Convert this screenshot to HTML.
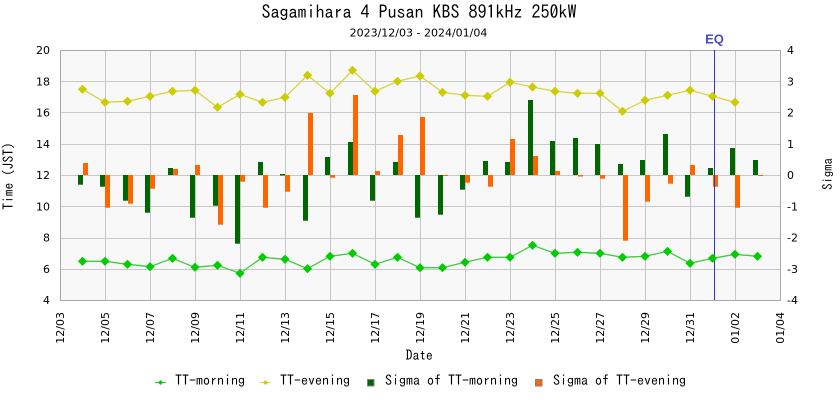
<!DOCTYPE html>
<html>
<head>
<meta charset="utf-8">
<style>
html,body{margin:0;padding:0;background:#fff;}
svg{display:block;}
.mono{font-family:"IPAGothic","Liberation Mono",monospace;}
.sans{font-family:"DejaVu Sans","Liberation Sans",sans-serif;}
</style>
</head>
<body>
<svg width="840" height="400" viewBox="0 0 840 400" xmlns="http://www.w3.org/2000/svg">
<defs>
<marker id="dy" viewBox="0 0 10 10" refX="5" refY="5" markerWidth="10" markerHeight="10" markerUnits="userSpaceOnUse">
<path d="M5,0.4 L9.6,5 L5,9.6 L0.4,5 Z" fill="#cccc00"/>
</marker>
<marker id="dg" viewBox="0 0 10 10" refX="5" refY="5" markerWidth="10" markerHeight="10" markerUnits="userSpaceOnUse">
<path d="M5,0.4 L9.6,5 L5,9.6 L0.4,5 Z" fill="#00cc00"/>
</marker>
</defs>
<rect x="0" y="0" width="840" height="400" fill="#fff"/>
<!-- title -->
<text class="mono" x="419" y="18.5" font-size="18" text-anchor="middle" fill="#000">Sagamihara 4 Pusan KBS 891kHz 250kW</text>
<text class="sans" x="418.5" y="36.5" font-size="11" text-anchor="middle" fill="#000">2023/12/03 - 2024/01/04</text>

<!-- plot background -->
<rect x="60" y="50" width="720" height="250" fill="#f8f8f8"/>
<!-- grid -->
<g stroke="#c8c8c8" stroke-width="1">
<line x1="105.5" y1="50" x2="105.5" y2="300"/>
<line x1="150.5" y1="50" x2="150.5" y2="300"/>
<line x1="195.5" y1="50" x2="195.5" y2="300"/>
<line x1="240.5" y1="50" x2="240.5" y2="300"/>
<line x1="285.5" y1="50" x2="285.5" y2="300"/>
<line x1="330.5" y1="50" x2="330.5" y2="300"/>
<line x1="375.5" y1="50" x2="375.5" y2="300"/>
<line x1="420.5" y1="50" x2="420.5" y2="300"/>
<line x1="465.5" y1="50" x2="465.5" y2="300"/>
<line x1="510.5" y1="50" x2="510.5" y2="300"/>
<line x1="555.5" y1="50" x2="555.5" y2="300"/>
<line x1="600.5" y1="50" x2="600.5" y2="300"/>
<line x1="645.5" y1="50" x2="645.5" y2="300"/>
<line x1="690.5" y1="50" x2="690.5" y2="300"/>
<line x1="735.5" y1="50" x2="735.5" y2="300"/>
<line x1="60" y1="81.5" x2="780" y2="81.5"/>
<line x1="60" y1="112.5" x2="780" y2="112.5"/>
<line x1="60" y1="144.5" x2="780" y2="144.5"/>
<line x1="60" y1="175.5" x2="780" y2="175.5"/>
<line x1="60" y1="206.5" x2="780" y2="206.5"/>
<line x1="60" y1="238.5" x2="780" y2="238.5"/>
<line x1="60" y1="269.5" x2="780" y2="269.5"/>
</g>
<rect x="60.5" y="50.5" width="720" height="250" fill="none" stroke="#a8a8a8" stroke-width="1"/>

<!-- bars: sigma morning (dark green) -->
<g fill="#006600">
<rect x="78" y="175" width="5" height="9.7"/>
<rect x="100" y="175" width="5" height="11.7"/>
<rect x="123" y="175" width="5" height="25.7"/>
<rect x="145" y="175" width="5" height="37.7"/>
<rect x="168" y="168" width="5" height="7"/>
<rect x="190" y="175" width="5" height="42.7"/>
<rect x="213" y="175" width="5" height="30.7"/>
<rect x="235" y="175" width="5" height="68.7"/>
<rect x="258" y="162" width="5" height="13"/>
<rect x="280" y="174" width="5" height="1.5"/>
<rect x="303" y="175" width="5" height="45.7"/>
<rect x="325" y="157" width="5" height="18"/>
<rect x="348" y="142" width="5" height="33"/>
<rect x="370" y="175" width="5" height="25.7"/>
<rect x="393" y="162" width="5" height="13"/>
<rect x="415" y="175" width="5" height="42.7"/>
<rect x="438" y="175" width="5" height="39.7"/>
<rect x="460" y="175" width="5" height="14.7"/>
<rect x="483" y="161" width="5" height="14"/>
<rect x="505" y="162" width="5" height="13"/>
<rect x="528" y="100" width="5" height="75"/>
<rect x="550" y="141" width="5" height="34"/>
<rect x="573" y="138" width="5" height="37"/>
<rect x="595" y="144" width="5" height="31"/>
<rect x="618" y="164" width="5" height="11"/>
<rect x="640" y="160" width="5" height="15"/>
<rect x="663" y="134" width="5" height="41"/>
<rect x="685" y="175" width="5" height="21.7"/>
<rect x="708" y="168" width="5" height="7"/>
<rect x="730" y="148" width="5" height="27"/>
<rect x="753" y="160" width="5" height="15"/>
</g>
<!-- bars: sigma evening (orange) -->
<g fill="#ff6600">
<rect x="83" y="163" width="5" height="12"/>
<rect x="105" y="175" width="5" height="32.7"/>
<rect x="128" y="175" width="5" height="28.7"/>
<rect x="150" y="175" width="5" height="13.7"/>
<rect x="173" y="169" width="5" height="6"/>
<rect x="195" y="165" width="5" height="10"/>
<rect x="218" y="175" width="5" height="49.7"/>
<rect x="240" y="175" width="5" height="6.7"/>
<rect x="263" y="175" width="5" height="32.7"/>
<rect x="285" y="175" width="5" height="16.7"/>
<rect x="308" y="113" width="5" height="62"/>
<rect x="330" y="175" width="5" height="2.7"/>
<rect x="353" y="95" width="5" height="80"/>
<rect x="375" y="171" width="5" height="4"/>
<rect x="398" y="135" width="5" height="40"/>
<rect x="420" y="117" width="5" height="58"/>
<rect x="443" y="175" width="5" height="1"/>
<rect x="465" y="175" width="5" height="7.7"/>
<rect x="488" y="175" width="5" height="11.7"/>
<rect x="510" y="139" width="5" height="36"/>
<rect x="533" y="156" width="5" height="19"/>
<rect x="555" y="171" width="5" height="4"/>
<rect x="578" y="175" width="5" height="1.5"/>
<rect x="600" y="175" width="5" height="3.7"/>
<rect x="623" y="175" width="5" height="65.7"/>
<rect x="645" y="175" width="5" height="26.7"/>
<rect x="668" y="175" width="5" height="8.7"/>
<rect x="690" y="165" width="5" height="10"/>
<rect x="713" y="175" width="5" height="11.7"/>
<rect x="735" y="175" width="5" height="32.7"/>
<rect x="758" y="175" width="5" height="1"/>
</g>

<!-- EQ line -->
<line x1="714.5" y1="50" x2="714.5" y2="300" stroke="#3333cc" stroke-width="1"/>
<text x="714.5" y="43.5" font-family="Liberation Sans, sans-serif" font-weight="bold" font-size="13" text-anchor="middle" fill="#4a4ad0">EQ</text>

<!-- series lines -->
<polyline fill="none" stroke="#d6d640" stroke-width="1.3" marker-start="url(#dy)" marker-mid="url(#dy)" marker-end="url(#dy)"
points="82.5,89.3 105,102.3 127.5,101.3 150,96.3 172.5,91.3 195,90.3 217.5,107.3 240,94.3 262.5,102.3 285,97.3 307.5,75.3 330,93.3 352.5,70.3 375,91.3 397.5,81.3 420,76 442.5,92.3 465,95.3 487.5,96.3 510,82.3 532.5,87 555,91.3 577.5,93.3 600,93.3 622.5,111.3 645,100.3 667.5,95.3 690,90.3 712.5,96.3 735,102.3"/>
<polyline fill="none" stroke="#40cc40" stroke-width="1.3" marker-start="url(#dg)" marker-mid="url(#dg)" marker-end="url(#dg)"
points="82.5,261.3 105,261.3 127.5,264.3 150,266.7 172.5,258.3 195,267.3 217.5,265.3 240,273.3 262.5,257.3 285,259.3 307.5,268.7 330,256.3 352.5,253.3 375,264.3 397.5,257.3 420,267.7 442.5,267.7 465,262.3 487.5,257.3 510,257.3 532.5,245.3 555,253.3 577.5,252.3 600,253.3 622.5,257.3 645,256.3 667.5,251.3 690,263.3 712.5,258.3 735,254.3 757.5,256.3"/>

<!-- left axis labels -->
<g class="sans" font-size="11" fill="#000" text-anchor="end">
<text x="50" y="54">20</text>
<text x="50" y="85.3">18</text>
<text x="50" y="116.5">16</text>
<text x="50" y="147.8">14</text>
<text x="50" y="179">12</text>
<text x="50" y="210.3">10</text>
<text x="50" y="241.5">8</text>
<text x="50" y="272.8">6</text>
<text x="50" y="304">4</text>
</g>
<!-- right axis labels -->
<g class="sans" font-size="11" fill="#000" text-anchor="start">
<text x="787" y="54">4</text>
<text x="787" y="85.3">3</text>
<text x="787" y="116.5">2</text>
<text x="787" y="147.8">1</text>
<text x="787" y="179">0</text>
<text x="787" y="210.3">-1</text>
<text x="787" y="241.5">-2</text>
<text x="787" y="272.8">-3</text>
<text x="787" y="304">-4</text>
</g>
<!-- x axis labels -->
<g class="sans" font-size="11" fill="#000" text-anchor="end">
<text transform="translate(64,312) rotate(-90)">12/03</text>
<text transform="translate(109,312) rotate(-90)">12/05</text>
<text transform="translate(154,312) rotate(-90)">12/07</text>
<text transform="translate(199,312) rotate(-90)">12/09</text>
<text transform="translate(244,312) rotate(-90)">12/11</text>
<text transform="translate(289,312) rotate(-90)">12/13</text>
<text transform="translate(334,312) rotate(-90)">12/15</text>
<text transform="translate(379,312) rotate(-90)">12/17</text>
<text transform="translate(424,312) rotate(-90)">12/19</text>
<text transform="translate(469,312) rotate(-90)">12/21</text>
<text transform="translate(514,312) rotate(-90)">12/23</text>
<text transform="translate(559,312) rotate(-90)">12/25</text>
<text transform="translate(604,312) rotate(-90)">12/27</text>
<text transform="translate(649,312) rotate(-90)">12/29</text>
<text transform="translate(694,312) rotate(-90)">12/31</text>
<text transform="translate(739,312) rotate(-90)">01/02</text>
<text transform="translate(784,312) rotate(-90)">01/04</text>
</g>

<!-- axis titles -->
<text class="mono" font-size="13.5" fill="#000" text-anchor="middle" transform="translate(13,176) rotate(-90)">Time (JST)</text>
<text class="mono" font-size="12.7" fill="#000" text-anchor="middle" transform="translate(832,174) rotate(-90)">Sigma</text>
<text class="mono" x="419.3" y="360" font-size="13.5" fill="#000" text-anchor="middle">Date</text>

<!-- legend -->
<line x1="155" y1="382.5" x2="166" y2="382.5" stroke="#40cc40" stroke-width="1"/>
<path d="M160.5,380 L163,382.5 L160.5,385 L158,382.5 Z" fill="#00cc00"/>
<text class="mono" x="175" y="385" font-size="14" fill="#000">TT-morning</text>
<line x1="260" y1="382.5" x2="271" y2="382.5" stroke="#d6d640" stroke-width="1"/>
<path d="M265.5,380 L268,382.5 L265.5,385 L263,382.5 Z" fill="#cccc00"/>
<text class="mono" x="280" y="385" font-size="14" fill="#000">TT-evening</text>
<rect x="367.5" y="379.5" width="6.5" height="6.5" fill="#006600" stroke="#808080" stroke-width="1"/>
<text class="mono" x="385" y="385" font-size="14" fill="#000">Sigma of TT-morning</text>
<rect x="535.5" y="379.5" width="6.5" height="6.5" fill="#ff6600" stroke="#808080" stroke-width="1"/>
<text class="mono" x="553" y="385" font-size="14" fill="#000">Sigma of TT-evening</text>
</svg>
</body>
</html>
